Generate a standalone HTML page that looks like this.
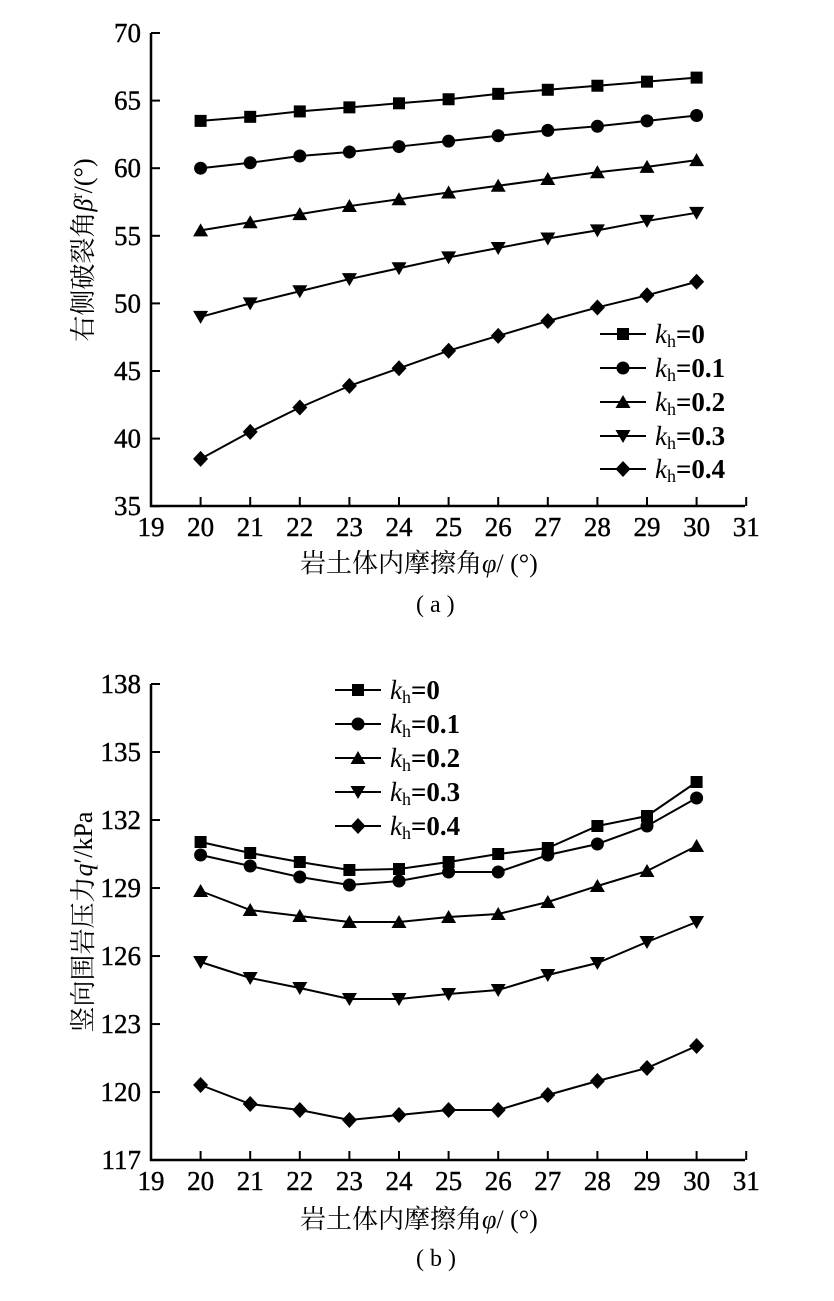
<!DOCTYPE html>
<html><head><meta charset="utf-8"><style>
body{margin:0;background:#fff}
svg text{font-family:"Liberation Serif","Noto Serif CJK SC",serif;fill:#000}
</style></head><body>
<svg id="s" width="834" height="1296" xmlns="http://www.w3.org/2000/svg">
<text x="300" y="572" font-size="26">岩土体内摩擦角<tspan font-style="italic">φ</tspan>/ (°)</text>
<text x="416" y="612" font-size="24">( a )</text>
<text x="300" y="1228" font-size="26">岩土体内摩擦角<tspan font-style="italic">φ</tspan>/ (°)</text>
<text x="416" y="1266" font-size="24">( b )</text>
<text transform="translate(92,250) rotate(-90)" font-size="26" text-anchor="middle">右侧破裂角<tspan font-style="italic">β</tspan><tspan font-size="16" dy="-10">r</tspan><tspan dy="10">/(°)</tspan></text>
<text transform="translate(92,922) rotate(-90)" font-size="26" text-anchor="middle">竖向围岩压力<tspan font-style="italic">q</tspan>′/kPa</text>
</svg>
<script>
const s=document.getElementById('s');const NS='http://www.w3.org/2000/svg';
function el(t,a,txt){const e=document.createElementNS(NS,t);for(const k in a)e.setAttribute(k,a[k]);if(txt!==undefined)e.textContent=txt;s.appendChild(e);return e;}
const X=v=>151+(v-19)*49.6;
function marker(i,x,y){
 if(i==0)el('rect',{x:x-6,y:y-6,width:12,height:12});
 else if(i==1)el('circle',{cx:x,cy:y,r:6.5});
 else if(i==2)el('polygon',{points:`${x},${y-7} ${x-7.5},${y+6} ${x+7.5},${y+6}`});
 else if(i==3)el('polygon',{points:`${x},${y+7} ${x-7.5},${y-6} ${x+7.5},${y-6}`});
 else el('polygon',{points:`${x},${y-8} ${x+7.5},${y} ${x},${y+8} ${x-7.5},${y}`});
}
function axes(top,bot,ticks,ypx){
 el('path',{d:`M151 ${top}H151V${bot}H745`,stroke:'#000','stroke-width':2.5,fill:'none'});
 ticks.forEach(t=>{const y=ypx(t);el('line',{x1:151,x2:160,y1:y,y2:y,stroke:'#000','stroke-width':2});
  el('text',{x:141,y:y+9,'font-size':27,'text-anchor':'end',stroke:'#000','stroke-width':0.4},t);});
 for(let v=19;v<=31;v++){const x=X(v);if(v>19)el('line',{x1:x,x2:x,y1:bot,y2:bot-9,stroke:'#000','stroke-width':2});
  el('text',{x:x,y:bot+30,'font-size':27,'text-anchor':'middle',stroke:'#000','stroke-width':0.4},v);}
}
function series(data,ypx){data.forEach((d,i)=>{const pts=d.map((v,j)=>[X(20+j),ypx(v)]);
 el('polyline',{points:pts.map(p=>p.join(',')).join(' '),fill:'none',stroke:'#000','stroke-width':2});
 pts.forEach(p=>marker(i,p[0],p[1]));});}
function legend(x0,ys){const lab=['0','0.1','0.2','0.3','0.4'];ys.forEach((y,i)=>{
 el('line',{x1:x0,x2:x0+46,y1:y,y2:y,stroke:'#000','stroke-width':2});marker(i,x0+23,y);
 const t=el('text',{x:x0+55,y:y+9,'font-size':27});
 t.innerHTML='<tspan font-style="italic">k</tspan><tspan font-size="18" dy="4">h</tspan><tspan dy="-4" font-weight="bold">=' +lab[i]+'</tspan>';});}
const ya=v=>33+(70-v)*13.52;
axes(33,506,[35,40,45,50,55,60,65,70],ya);
series([[63.5,63.8,64.2,64.5,64.8,65.1,65.5,65.8,66.1,66.4,66.7],
[60.0,60.4,60.9,61.2,61.6,62.0,62.4,62.8,63.1,63.5,63.9],
[55.4,56.0,56.6,57.2,57.7,58.2,58.7,59.2,59.7,60.1,60.6],
[49.0,50.0,50.9,51.8,52.6,53.4,54.1,54.8,55.4,56.1,56.7],
[38.5,40.5,42.3,43.9,45.2,46.5,47.6,48.7,49.7,50.6,51.6]],ya);
legend(600,[334,368,402,436,469]);
const yb=v=>684+(138-v)*22.67;
axes(684,1160,[117,120,123,126,129,132,135,138],yb);
const P=[[842,853,862,870,869,862,854,848,826,816,782],
[855,866,877,885,881,872,872,855,844,826,798],
[891,910,916,922,922,917,914,902,886,871,846],
[962,978,988,999,999,994,990,975,963,942,922],
[1085,1104,1110,1120,1115,1110,1110,1095,1081,1068,1046]];
series(P.map(r=>r.map(y=>138-(y-684)/22.67)),yb);
legend(335,[690,724,758,792,826]);
</script>
</body></html>
